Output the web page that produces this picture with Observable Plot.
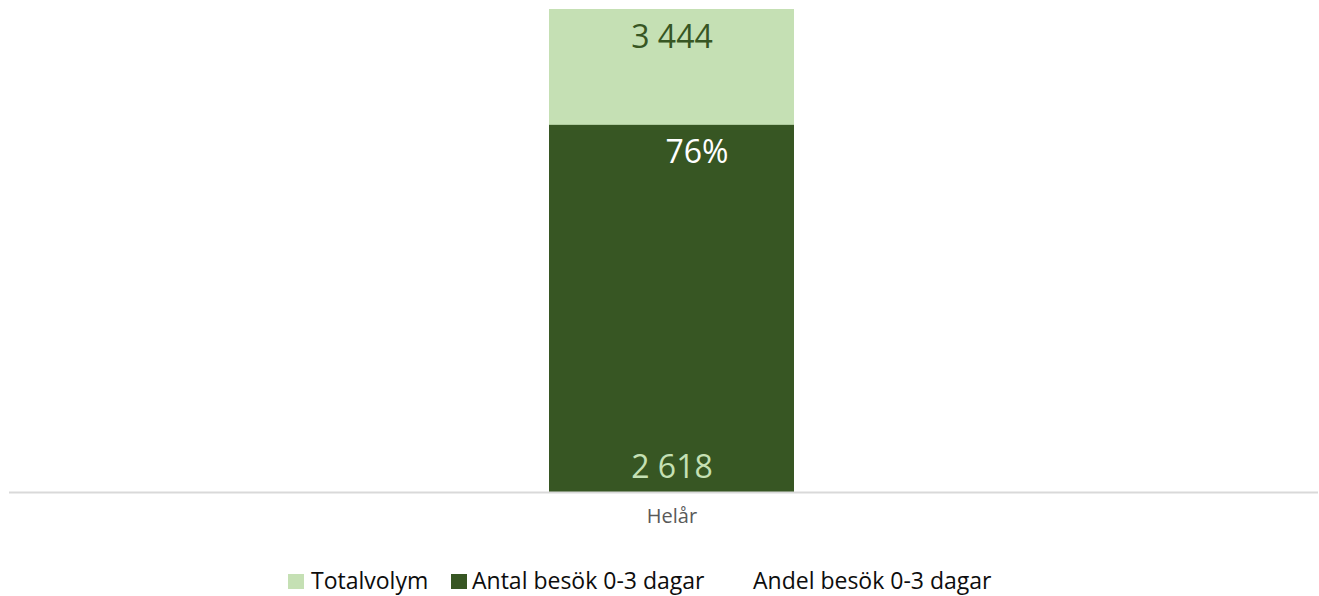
<!DOCTYPE html>
<html>
<head>
<meta charset="utf-8">
<script src="https://cdn.jsdelivr.net/npm/d3@7"></script>
<script src="https://cdn.jsdelivr.net/npm/@observablehq/plot@0.6"></script>
<style>
  html, body { margin: 0; padding: 0; background: #fff; }
  #wrap { position: relative; width: 1319px; height: 596px; font-family: "Open Sans", sans-serif; }
  .lg { position: absolute; font-size: 23px; line-height: 23px; color: #0d0d0d; white-space: nowrap; top: 569px; }
  .sw { position: absolute; width: 16px; height: 15px; top: 574px; }
</style>
</head>
<body>
<div id="wrap"></div>
<script>
const categories = ["Helår"];
const totalvolym = [3444];
const antal03 = [2618];
const andel03 = [0.76];
const seriesNames = ["Totalvolym", "Antal besök 0-3 dagar", "Andel besök 0-3 dagar"];
const seriesColors = ["#C5E0B4", "#375623", "none"];

const rows = categories.map((c, i) => ({cat: c, total: totalvolym[i], antal: antal03[i], andel: andel03[i]}));
const sv = d3.formatLocale({decimal: ",", thousands: " ", grouping: [3], currency: ["", " kr"]});
const fmtNum = sv.format(",d");
const fmtPct = d3.format(".0%");

const plot = Plot.plot({
  width: 1319,
  height: 540,
  marginTop: 9,
  marginBottom: 48,
  marginLeft: 9,
  marginRight: 1,
  style: {fontFamily: "'Open Sans', sans-serif", background: "transparent"},
  x: {domain: categories, padding: 0, axis: null},
  y: {domain: [0, d3.max(totalvolym)], axis: null},
  marks: [
    Plot.barY(rows, {x: "cat", y1: 0, y2: "total", fill: seriesColors[0], insetLeft: 540, insetRight: 524}),
    Plot.barY(rows, {x: "cat", y1: 0, y2: "antal", fill: seriesColors[1], insetLeft: 540, insetRight: 524}),
    Plot.ruleY([0], {stroke: "#d9d9d9", strokeWidth: 2}),
    Plot.text(rows, {x: "cat", y: "total", text: d => fmtNum(d.total), fill: "#375623", fontSize: 32, dx: 8, dy: 28, lineAnchor: "middle"}),
    Plot.text(rows, {x: "cat", y: "antal", text: d => fmtPct(d.andel), fill: "#ffffff", fontSize: 32, dx: 33, dy: 27, lineAnchor: "middle"}),
    Plot.text(rows, {x: "cat", y: () => 0, text: d => fmtNum(d.antal), fill: "#C5E0B4", fontSize: 32, dx: 8, dy: -25, lineAnchor: "middle"}),
    Plot.text(categories, {x: d => d, frameAnchor: "bottom", text: d => d, fill: "#595959", fontSize: 20, dx: 8, dy: 24, lineAnchor: "middle"})
  ]
});
const wrap = document.getElementById("wrap");
wrap.appendChild(plot);

const legendPos = [{sw: 288, tx: 311}, {sw: 451, tx: 472}, {sw: null, tx: 753}];
seriesNames.forEach((name, i) => {
  const p = legendPos[i];
  if (p.sw !== null && seriesColors[i] !== "none") {
    const s = document.createElement("div");
    s.className = "sw";
    s.style.left = p.sw + "px";
    s.style.background = seriesColors[i];
    wrap.appendChild(s);
  }
  const t = document.createElement("div");
  t.className = "lg";
  t.style.left = p.tx + "px";
  t.textContent = name;
  wrap.appendChild(t);
});
plot.style.position = "absolute";
plot.style.left = "0";
plot.style.top = "0";
</script>
</body>
</html>
